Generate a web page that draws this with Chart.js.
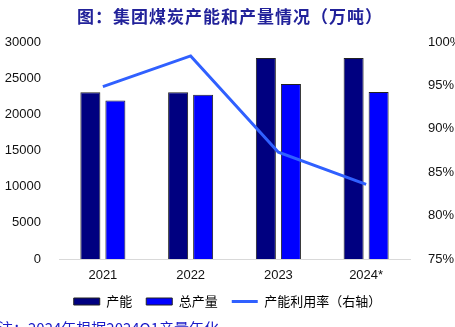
<!DOCTYPE html>
<html>
<head>
<meta charset="utf-8">
<script src="https://cdn.jsdelivr.net/npm/chart.js@4"></script>
<style>
  html, body { margin: 0; padding: 0; background: #fff; }
</style>
</head>
<body>
<canvas id="chart" width="455" height="327"></canvas>
<script>
const years = ["2021", "2022", "2023", "2024*"];
const capacity = [23050, 23050, 27800, 27800];     // 产能
const output = [21900, 22700, 24200, 23100];       // 总产量
const utilRate = [94.85, 98.4, 87.3, 83.6];        // 产能利用率（右轴）
const leftTicks = [0, 5000, 10000, 15000, 20000, 25000, 30000];
const rightTicks = [75, 80, 85, 90, 95, 100];

const titleText = "图：集团煤炭产能和产量情况（万吨）";
const noteText = "注：2024年根据2024Q1产量年化";

const cjk = '"Noto Sans CJK SC", "Liberation Sans", sans-serif';
const num = '"Liberation Sans", Arial, sans-serif';

// title and cut-off footnote, drawn straight on the canvas
const extraText = {
    id: "extraText",
    afterDraw: function (chart) {
        const ctx = chart.ctx;
        ctx.save();
        ctx.fillStyle = "#22229a";
        ctx.font = "bold 17px " + cjk;
        ctx.textAlign = "left";
        ctx.textBaseline = "middle";
        const w = ctx.measureText(titleText).width;
        const gap = Math.max(0, (306 - w) / titleText.length);
        ctx.letterSpacing = gap + "px";
        ctx.fillText(titleText, 77, 17);

        ctx.letterSpacing = "0px";
        ctx.fillStyle = "#1a1ac8";
        ctx.font = "15px " + cjk;
        ctx.textBaseline = "top";
        ctx.fillText(noteText, -2, 321);
        ctx.restore();
    }
};

new Chart(document.getElementById("chart"), {
    data: {
        labels: years,
        datasets: [{
            type: "line",
            label: "产能利用率（右轴）",
            data: utilRate,
            yAxisID: "yR",
            borderColor: "#3060ff",
            backgroundColor: "#3060ff",
            borderWidth: 3,
            pointRadius: 0,
            tension: 0,
            order: 0
        }, {
            type: "bar",
            label: "产能",
            data: capacity,
            yAxisID: "yL",
            backgroundColor: "#000080",
            borderColor: "#222",
            borderWidth: 1,
            categoryPercentage: 0.57,
            barPercentage: 0.8,
            order: 1
        }, {
            type: "bar",
            label: "总产量",
            data: output,
            yAxisID: "yL",
            backgroundColor: "#0000ff",
            borderColor: "#222",
            borderWidth: 1,
            categoryPercentage: 0.57,
            barPercentage: 0.8,
            order: 1
        }]
    },
    options: {
        responsive: false,
        animation: false,
        devicePixelRatio: 1,
        layout: { padding: { top: 42, left: 0, right: 0, bottom: 9 } },
        scales: {
            x: {
                grid: { display: false },
                border: { display: true, color: "#d9d9d9", width: 1 },
                ticks: { color: "#111", font: { family: num, size: 13 }, padding: 1 },
                afterFit: function (s) { s.height = 22; }
            },
            yL: {
                position: "left",
                min: 0, max: 30000,
                grid: { display: false },
                border: { display: false },
                afterBuildTicks: function (s) { s.ticks = leftTicks.map(v => ({ value: v })); },
                ticks: { color: "#111", font: { family: num, size: 13 }, padding: 10,
                    callback: v => String(v) },
                afterFit: function (s) { s.width = 59; }
            },
            yR: {
                position: "right",
                min: 75, max: 100,
                grid: { display: false },
                border: { display: false },
                afterBuildTicks: function (s) { s.ticks = rightTicks.map(v => ({ value: v })); },
                ticks: { color: "#111", font: { family: num, size: 13 }, padding: 10,
                    callback: v => v + "%" },
                afterFit: function (s) { s.width = 45; }
            }
        },
        plugins: {
            legend: {
                position: "bottom",
                labels: {
                    usePointStyle: true,
                    pointStyleWidth: 26,
                    boxHeight: 7,
                    padding: 14,
                    color: "#111",
                    font: { family: cjk, size: 13 },
                    generateLabels: function (chart) {
                        const ds = chart.data.datasets;
                        return [1, 2, 0].map(i => ({
                            text: ds[i].label,
                            datasetIndex: i,
                            fillStyle: ds[i].backgroundColor,
                            strokeStyle: i === 0 ? ds[i].borderColor : "#222",
                            lineWidth: i === 0 ? 3 : 1,
                            pointStyle: i === 0 ? "line" : "rect",
                            hidden: false
                        }));
                    }
                }
            },
            tooltip: { enabled: false }
        }
    },
    plugins: [extraText]
});
</script>
</body>
</html>
